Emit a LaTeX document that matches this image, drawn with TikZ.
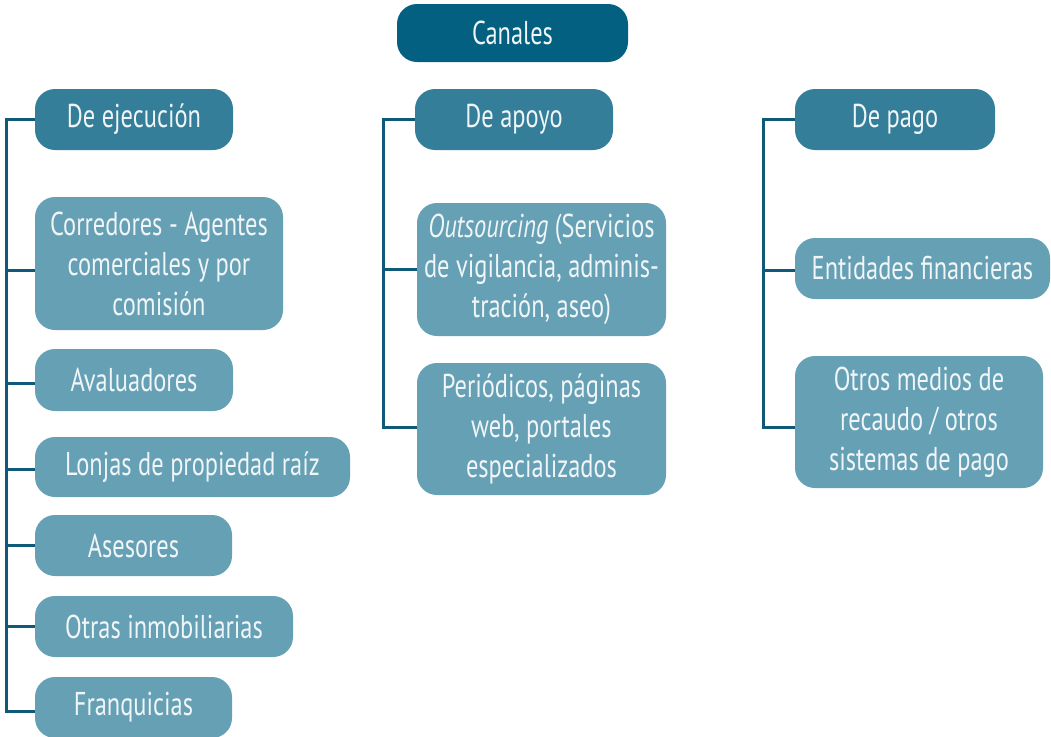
\documentclass[tikz,border=0pt]{standalone}
\usepackage{fontspec}
\usetikzlibrary{calc}
\setmainfont[FakeStretch=0.74]{PT Sans}
\definecolor{cTop}{RGB}{3,96,128}
\definecolor{cHead}{RGB}{52,126,154}
\definecolor{cItem}{RGB}{102,160,181}
\definecolor{cLine}{RGB}{14,90,120}
\definecolor{cText}{RGB}{240,245,247}
\begin{document}
\begin{tikzpicture}[x=1pt,y=-1pt,
  box/.style={rectangle, rounded corners=20pt, inner sep=0pt, text=cText, align=center,
    font=\fontsize{33}{40}\selectfont},
  topbox/.style={box, fill=cTop},
  headbox/.style={box, fill=cHead},
  itembox/.style={box, fill=cItem},
  conn/.style={draw=cLine, line width=3pt}]
\path[use as bounding box] (0,0) rectangle (1051,736);
\clip (0,0) rectangle (1051,736);
% top
\node[topbox, minimum width=231pt, minimum height=58pt] (canales) at (512.5,33) {Canales};
% headings
\node[headbox, minimum width=198pt, minimum height=61pt] (ejec) at (134,119.5) {De ejecución};
\node[headbox, minimum width=198pt, minimum height=61pt] (apoyo) at (514,119.5) {De apoyo};
\node[headbox, minimum width=200pt, minimum height=61pt] (pago) at (895,119.5) {De pago};
% left items
\node[itembox, minimum width=248pt, minimum height=133pt] (corr) at (159,263.5) {Corredores - Agentes\\comerciales y por\\comisión};
\node[itembox, minimum width=198pt, minimum height=62pt] (aval) at (134,380) {Avaluadores};
\node[itembox, minimum width=315pt, minimum height=60pt] (lonj) at (192.5,467) {Lonjas de propiedad raíz};
\node[itembox, minimum width=197pt, minimum height=61pt] (ases) at (133.5,545.5) {Asesores};
\node[itembox, minimum width=258pt, minimum height=61pt] (otras) at (164,626.5) {Otras inmobiliarias};
\node[itembox, minimum width=197pt, minimum height=61pt] (fran) at (133.5,707.5) {Franquicias};
% middle items
\node[itembox, minimum width=249pt, minimum height=133pt] (outs) at (541.5,269.5) {\textit{Outsourcing} (Servicios\\de vigilancia, adminis-\\tración, aseo)};
\node[itembox, minimum width=249pt, minimum height=132pt] (peri) at (541.5,429) {Periódicos, páginas\\web, portales\\especializados};
% right items
\node[itembox, minimum width=255pt, minimum height=61pt] (enti) at (922.5,268.5) {Entidades financieras};
\node[itembox, minimum width=248pt, minimum height=132pt] (otros) at (919,422) {Otros medios de\\recaudo / otros\\sistemas de pago};
% trunk positions and connector points
\coordinate (tl) at (6,0);
\coordinate (tm) at (383,0);
\coordinate (tr) at (763,0);
\coordinate (pcorr) at ($(corr.west)+(0,6.5)$);
\coordinate (paval) at ($(aval.west)+(0,3)$);
\coordinate (plonj) at ($(lonj.west)+(0,2)$);
\coordinate (pfran) at ($(fran.west)+(0,3.5)$);
\coordinate (pperi) at ($(peri.west)+(0,-2)$);
\coordinate (potros) at ($(otros.west)+(0,5)$);
\coordinate (penti) at ($(enti.west)+(0,1.5)$);
% left
\draw[conn] (ejec.west) -- (ejec.west -| tl) -- (pfran -| tl) -- (pfran);
\draw[conn] (tl |- pcorr) -- (pcorr);
\draw[conn] (tl |- paval) -- (paval);
\draw[conn] (tl |- plonj) -- (plonj);
\draw[conn] (tl |- ases.west) -- (ases.west);
\draw[conn] (tl |- otras.west) -- (otras.west);
% middle
\draw[conn] (apoyo.west) -- (apoyo.west -| tm) -- (pperi -| tm) -- (pperi);
\draw[conn] (tm |- outs.west) -- (outs.west);
% right
\draw[conn] (pago.west) -- (pago.west -| tr) -- (potros -| tr) -- (potros);
\draw[conn] (tr |- penti) -- (penti);
\end{tikzpicture}
\end{document}
